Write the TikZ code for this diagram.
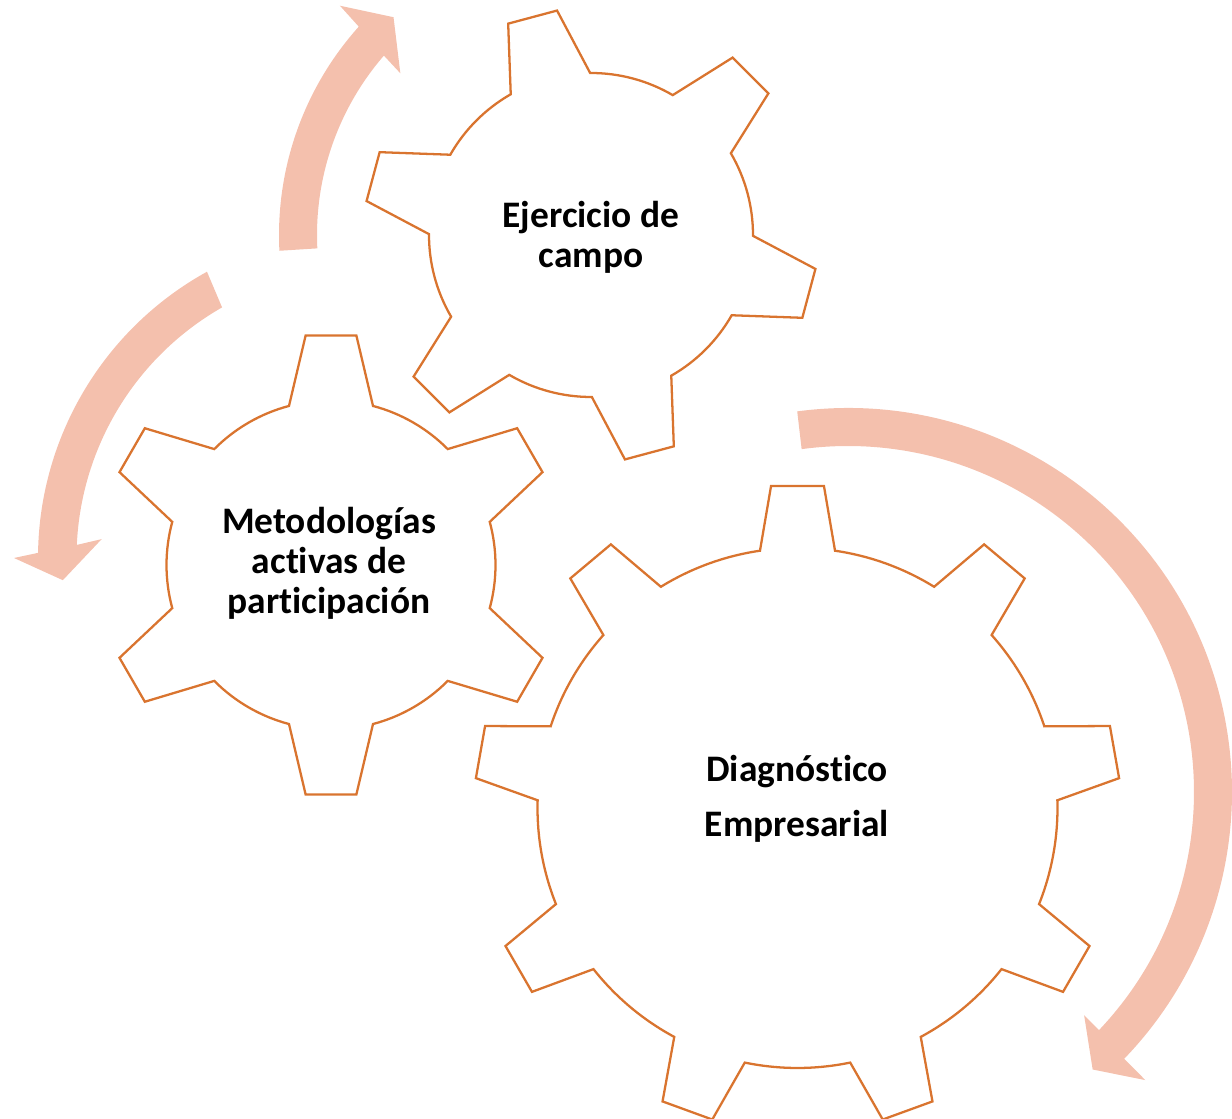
\documentclass[tikz,border=0pt]{standalone}
\usepackage{fontspec}
\setmainfont{Carlito}[Ligatures={NoCommon}]
\usepackage{tikz}
\usetikzlibrary{positioning}

\definecolor{gearorange}{HTML}{D9742F}
\definecolor{arrowpink}{HTML}{F4C0AD}

% #1 centre, #2 teeth, #3 first tooth angle, #4 root radius, #5 tip radius,
% #6 tip half angle, #7 root half angle
\newcommand{\gearshape}[7]{%
    \begin{scope}[shift={#1}]
        \draw[gear] ({#3-#7}:#4)
        \foreach \k [evaluate=\k as \a using #3+(\k-1)*360/#2] in {1,...,#2} {
            -- ({\a-#6}:#5) -- ({\a+#6}:#5) -- ({\a+#7}:#4)
            arc[start angle={\a+#7}, end angle={\a+360/#2-#7}, radius=#4]
        } -- cycle;
    \end{scope}}

\begin{document}
\begin{tikzpicture}[x=0.02cm, y=0.02cm,
        gear/.style={draw=gearorange, line width=1.3pt, line join=miter},
        arrowband/.style={fill=arrowpink},
        gearlabel/.style={font=\bfseries\fontsize{21.3}{22.8}\selectfont, align=center, anchor=base}]
    \useasboundingbox (0,0) rectangle (1232,1119);

    % arrows
    \begin{scope}[shift={(591,884)}]
        \fill[arrowband] (182.9:312) arc[start angle=182.9, end angle=138.1, radius=312]
            -- (137.6:340) -- (132.2:294) -- (139.7:250) -- (139.1:274)
            arc[start angle=139.1, end angle=182.8, radius=274] -- cycle;
    \end{scope}
    \begin{scope}[shift={(365,561)}]
        \fill[arrowband] (118.9:327) arc[start angle=118.9, end angle=179.1, radius=327]
            -- (180:351) -- (184.2:303) -- (175.9:264) -- (177.4:288.5)
            arc[start angle=177.4, end angle=119.7, radius=288.5] -- cycle;
    \end{scope}
    \begin{scope}[shift={(848,327)}]
        \fill[arrowband] (97.6:384) arc[start angle=97.6, end angle=-44, radius=384]
            -- (-44.1:414) -- (-48.6:370) -- (-43.4:325) -- (-43.5:346)
            arc[start angle=-43.5, end angle=97.7, radius=346] -- cycle;
    \end{scope}

    % gears
    \gearshape{(591,884)}{6}{105}{162}{227}{6.4}{14.7}
    \gearshape{(331,554)}{6}{90}{164.5}{231}{6.3}{14.8}
    \gearshape{(797.5,311)}{9}{90}{260}{323}{4.7}{8.3}

    \node[gearlabel] (ejercicio) at (591,851) {Ejercicio de\\campo};
    \node[gearlabel] (metodologias) at (329,505) {Metodologías\\activas de\\participación};
    \node[gearlabel, font=\bfseries\fontsize{21.3}{31.3}\selectfont] (diagnostico) at (797,282) {Diagnóstico\\Empresarial};
\end{tikzpicture}
\end{document}
